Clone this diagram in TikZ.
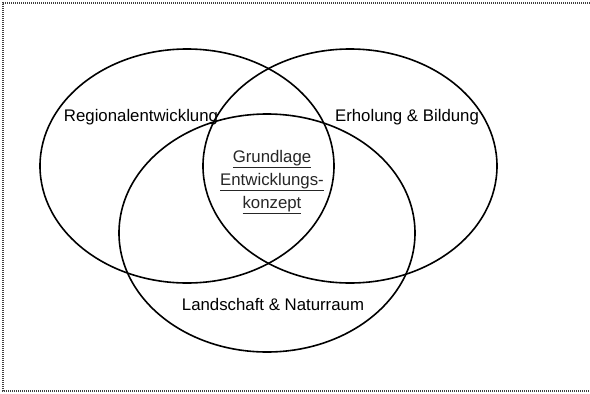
\documentclass[tikz,border=0pt]{standalone}
\usepackage{fontspec}
\setmainfont{Liberation Sans}
\begin{document}
\begin{tikzpicture}[x=1pt,y=-1pt,
  setring/.style={draw=black,line width=1.6pt},
  lbl/.style={font=\fontsize{16.8}{18}\selectfont,inner sep=0pt},
  core/.style={font=\fontsize{16.8}{23}\selectfont,inner sep=0pt,align=center,text=black!85},
  frame/.style={draw=black!75,line width=2.5pt,dash pattern=on 1pt off 1pt}]
\useasboundingbox (0,0) rectangle (590,394);
\draw[frame] (590,3) -- (3,3) -- (3,391) -- (590,391);
\draw[setring] (187,166) ellipse [x radius=147, y radius=117];
\draw[setring] (350,166) ellipse [x radius=147, y radius=117];
\draw[setring] (267,233) ellipse [x radius=148, y radius=119];
\node[lbl] (reg) at (141,117) {Regionalentwicklung};
\node[lbl] (erh) at (407,117) {Erholung \& Bildung};
\node[lbl] (lan) at (273,304) {Landschaft \& Naturraum};
\node[core] (grund) at (272,182) {\underline{Grundlage}\\\underline{Entwicklungs-}\\\underline{konzept}};
\end{tikzpicture}
\end{document}
